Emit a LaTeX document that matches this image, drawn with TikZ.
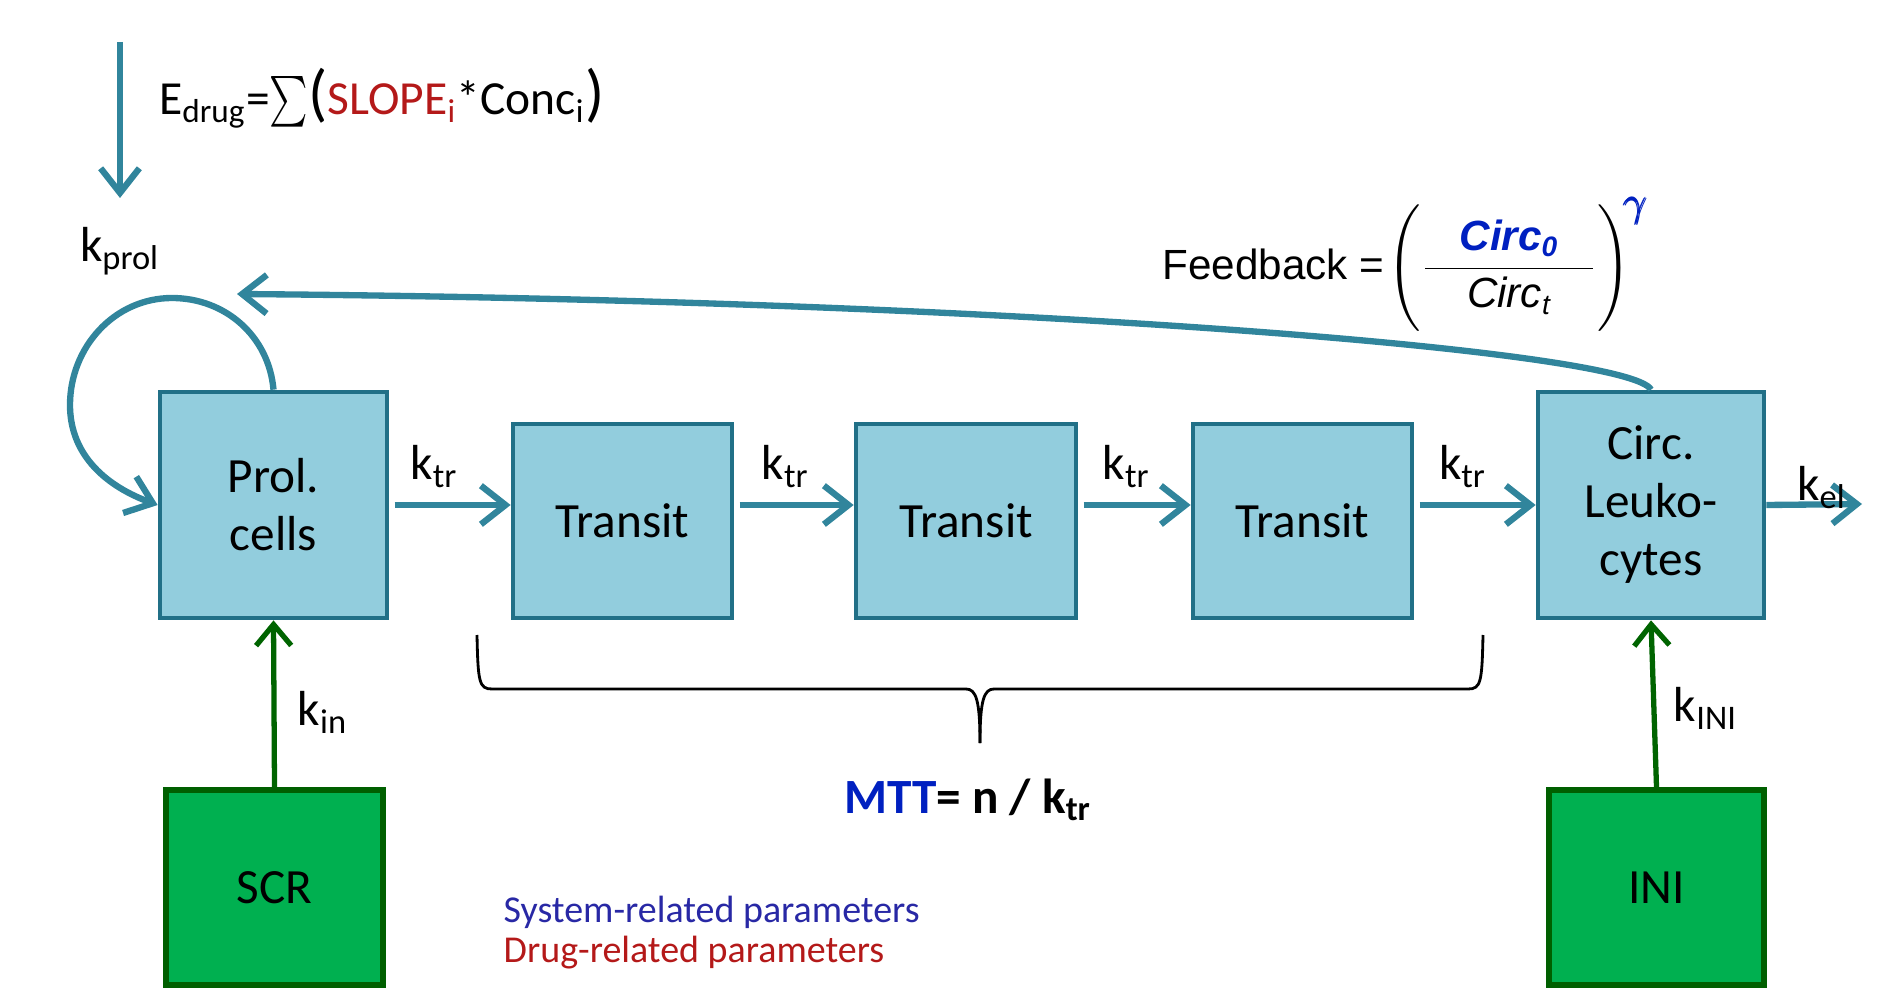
\documentclass[tikz,border=0pt]{standalone}
\usepackage{amsmath}
\usepackage{fontspec}
\setmainfont{Carlito}
\newfontfamily\fbfont{Liberation Sans}
\usepackage{xcolor}
\usepackage{tikz}
\usetikzlibrary{arrows.meta,calc}

\definecolor{boxfill}{RGB}{146,205,221}
\definecolor{boxdraw}{RGB}{33,112,135}
\definecolor{flow}{RGB}{49,133,156}
\definecolor{srcfill}{RGB}{0,176,80}
\definecolor{srcdraw}{RGB}{0,95,0}
\definecolor{inflow}{RGB}{0,100,0}
\definecolor{sysblue}{RGB}{40,40,165}
\definecolor{drugred}{RGB}{180,25,25}
\definecolor{fbblue}{RGB}{0,32,192}

\begin{document}
\begin{tikzpicture}[
    x=0.01cm, y=-0.01cm,
    base/.style={draw, rectangle, align=center, inner sep=0pt,
                 font=\fontsize{14}{16.5}\selectfont},
    comp/.style={base, fill=boxfill, draw=boxdraw, line width=1.3pt},
    src/.style={base, fill=srcfill, draw=srcdraw, line width=1.7pt},
    arr/.style={-{Straight Barb[length=7pt,width=11pt]}, line width=1.8pt, flow},
    inarr/.style={-{Straight Barb[length=6pt,width=10pt]}, line width=1.5pt, inflow},
    rate/.style={font=\fontsize{14}{16}\selectfont, inner sep=1pt, text=black},
    brace/.style={line width=0.8pt, black},
  ]
    \useasboundingbox (0,0) rectangle (1878,997);

    % ---- Compartments ----
    \node[comp, minimum width=2.27cm, minimum height=2.26cm] (prol) at (273.5,505)  {Prol.\\cells};
    \node[comp, minimum width=2.19cm, minimum height=1.94cm] (tr1)  at (622.5,521)  {Transit};
    \node[comp, minimum width=2.20cm, minimum height=1.94cm] (tr2)  at (966,521)    {Transit};
    \node[comp, minimum width=2.19cm, minimum height=1.94cm] (tr3)  at (1302.5,521) {Transit};
    \node[comp, minimum width=2.26cm, minimum height=2.26cm] (circ) at (1651,505)   {Circ.\\Leuko-\\cytes};

    % ---- Sources ----
    \node[src, minimum width=2.17cm, minimum height=1.95cm] (scr) at (274.5,887.5)  {SCR};
    \node[src, minimum width=2.15cm, minimum height=1.95cm] (ini) at (1656.5,887.5) {INI};

    % ---- Transit chain ----
    \draw[arr, shorten <=1.5pt] (prol.east) -- (prol.east -| tr1.west)
      node[rate, pos=0.37, above=3pt] {k\textsubscript{tr}};
    \draw[arr, shorten <=1.5pt] (tr1.east |- prol.east) -- (tr2.west |- prol.east)
      node[rate, pos=0.43, above=3pt] {k\textsubscript{tr}};
    \draw[arr, shorten <=1.5pt] (tr2.east |- prol.east) -- (tr3.west |- prol.east)
      node[rate, pos=0.43, above=3pt] {k\textsubscript{tr}};
    \draw[arr, shorten <=1.5pt] (tr3.east |- prol.east) -- (circ.west |- prol.east)
      node[rate, pos=0.4, above=3pt] {k\textsubscript{tr}};

    % ---- Elimination ----
    \coordinate (elim) at (1862,504);
    \draw[arr] (circ.east) -- (elim)
      node[rate, pos=0.58, above=-3pt] {k\textsubscript{el}};

    % ---- Inputs from sources ----
    \draw[inarr] (scr.north) -- (prol.south)
      node[rate, midway, right=5pt, yshift=-2.5pt] {k\textsubscript{in}};
    \draw[inarr] (ini.north) -- (circ.south)
      node[rate, midway, right=4pt, yshift=-1.4pt] {k\textsubscript{INI}};

    % ---- Proliferation loop ----
    \draw[arr] (prol.north) to[out=95,in=0] (172,298)
      to[out=180,in=90] (70,405) to[out=-90,in=160] (prol.west);
    \node[rate] (kprol) at (120,251) {k\textsubscript{prol}};

    % ---- Drug effect ----
    \coordinate (drugtop) at (120,42);
    \coordinate (drugend) at (120,198);
    \draw[arr] (drugtop) -- (drugend);
    \node[rate, anchor=west, font=\fontsize{13.5}{16}\selectfont] (edrug) at (155,98)
      {E\textsubscript{drug}=\scalebox{0.72}[1]{$\textstyle\sum$}{\fontsize{18}{18}\selectfont(}\textcolor{drugred}{SLOPE\textsubscript{i}}*Conc\textsubscript{i}{\fontsize{18}{18}\selectfont)}};

    % ---- Feedback ----
    \coordinate (fbtip) at (237,294);
    \draw[arr] (circ.north) .. controls (1630,350) and (1000,300) .. (fbtip);
    \node[anchor=west, inner sep=0pt, font=\fbfont\fontsize{12}{14}\selectfont] (fb) at (1162,266)
      {Feedback =\hspace{-2.4pt} $\left(\rule[-0.56cm]{0pt}{1.2cm}\dfrac{\makebox[1.68cm]{\bfseries\itshape\color{fbblue}Circ\textsubscript{0}}}{\makebox[1.68cm]{\itshape Circ\textsubscript{t}}}\right)^{\hspace{-2pt}\mbox{\fontsize{12.5}{12.5}\selectfont\color{fbblue}$\pmb{\gamma}$}}$};

    % ---- Mean transit time ----
    \coordinate (brl) at (477,635);
    \coordinate (brr) at (1483,635);
    \coordinate (brtip) at (980,743);
    \draw[brace] (brl) .. controls (478,682) and (479,689) .. (492,689) -- (966,689)
      .. controls (976,689) and (980,700) .. (brtip);
    \draw[brace] (brr) .. controls (1482,682) and (1481,689) .. (1468,689) -- (994,689)
      .. controls (984,689) and (980,700) .. (brtip);
    \node[font=\bfseries\fontsize{14}{16}\selectfont] (mtt) at (968,800)
      {\textcolor{fbblue}{MTT}= n / k\textsubscript{tr}};

    % ---- Legend ----
    \node[anchor=west, align=left, inner sep=0pt, font=\fontsize{10.8}{11.4}\selectfont] (legend) at (503,933)
      {\textcolor{sysblue}{System-related parameters}\\\textcolor{drugred}{Drug-related parameters}};
  \end{tikzpicture}
\end{document}
